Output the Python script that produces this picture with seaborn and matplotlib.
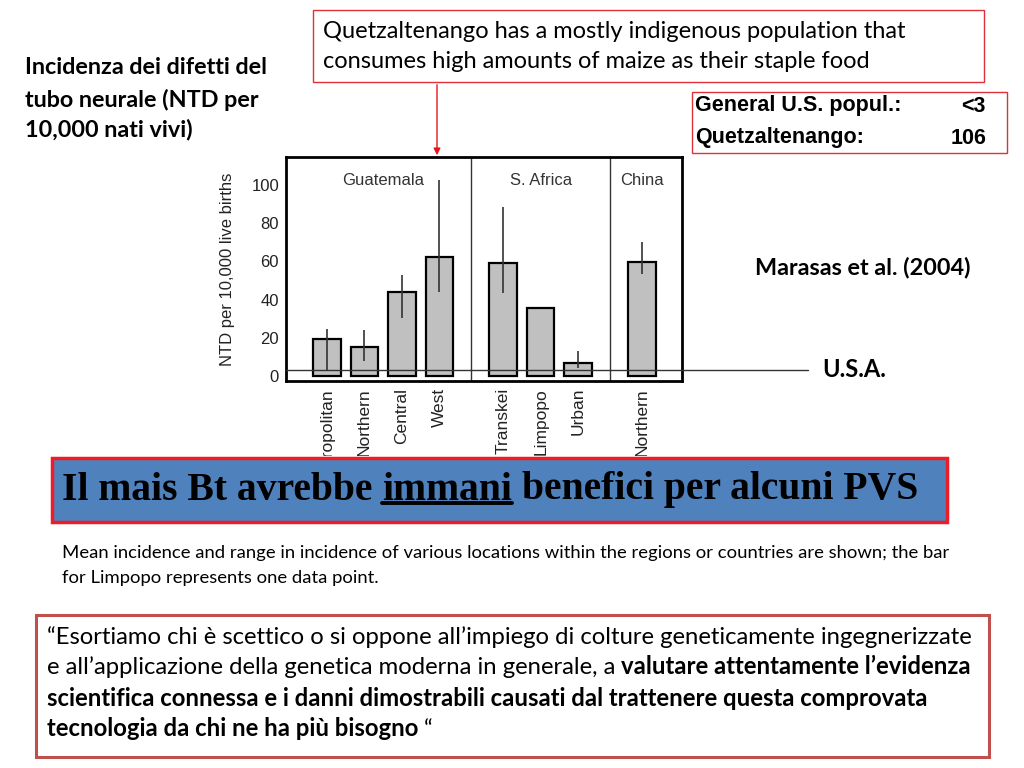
import numpy as np
import pandas as pd
import matplotlib
matplotlib.use("Agg")
import matplotlib.pyplot as plt
import seaborn as sns
from matplotlib.patches import Rectangle
from matplotlib.lines import Line2D
from matplotlib.transforms import Bbox, TransformedBbox

# data (NTD per 10,000 live births)
regions = ["Guatemala", "S. Africa", "China"]
locations = ["Metropolitan", "Northern", "Central", "West", "Transkei", "Limpopo", "Urban", "Northern"]
location_region = ["Guatemala"] * 4 + ["S. Africa"] * 3 + ["China"]
ntd_mean = [19.5, 15, 44, 62.5, 59, 35.5, 7, 59.5]
ntd_low = [3, 8, 30.5, 44, 43.5, np.nan, 4, 53.5]
ntd_high = [24.5, 24, 53, 102.5, 88.5, np.nan, 13, 70]
us_level = 3
y_ticks = [0, 20, 40, 60, 80, 100]

sns.set_theme(style="white")
plt.rcParams["font.family"] = ["Liberation Sans", "DejaVu Sans"]
plt.rcParams["text.color"] = "black"

W, H = 1024, 768
fig = plt.figure(figsize=(W / 100, H / 100), dpi=100)
fig.patch.set_facecolor("white")


def fx(px):
    return px / W


def fy(py):
    return 1 - py / H


# bar chart axes
ax = fig.add_axes([fx(286), fy(381), fx(682) - fx(286), fy(157) - fy(381)])

region_idx = np.array([regions.index(r) for r in location_region])
xpos = np.arange(len(locations)) + 0.7 * region_idx
df = pd.DataFrame({"x": xpos, "ntd": ntd_mean, "low": ntd_low, "high": ntd_high})

sns.barplot(data=df, x="x", y="ntd", native_scale=True, color="#c0c0c0",
            saturation=1, edgecolor="black", linewidth=1.6, width=0.73,
            errorbar=None, ax=ax, zorder=2)

rng = df.dropna()
ax.vlines(rng["x"], rng["low"], rng["high"], color="#333333", lw=1.2, zorder=3)

# region dividers and labels
for i, reg in enumerate(regions):
    xs = xpos[region_idx == i]
    ax.text(xs.mean(), 102.5, reg, ha="center", va="center", fontsize=12, color="#333333")
    if i < len(regions) - 1:
        nxt = xpos[region_idx == i + 1].min()
        ax.axvline((xs.max() + nxt) / 2, color="#333333", lw=1, zorder=1)

# U.S. reference line running out to the label
ax.axhline(us_level, xmin=0, xmax=(808 - 286) / (682 - 286), color="#333333",
           lw=1, clip_on=False, zorder=4)

ax.set_xlim(-1.09, 9.47)
ax.set_ylim(-2.6, 114.7)
ax.set_yticks(y_ticks)
ax.set_xticks(xpos, locations, rotation=90)
ax.tick_params(axis="both", length=0, colors="#222222", pad=5)
ax.tick_params(axis="x", labelsize=12.5)
ax.tick_params(axis="y", labelsize=12)
ax.set_xlabel("")
ax.set_ylabel("NTD per 10,000 live births", fontsize=12, color="#222222", labelpad=12)
for s in ax.spines.values():
    s.set_color("black")
    s.set_linewidth(2)
    s.set_visible(True)

# the original figure image is cropped just above the headline box
crop = TransformedBbox(Bbox([[0, fy(456)], [1, 1]]), fig.transFigure)
for lbl in ax.get_xticklabels():
    lbl.set_clip_on(True)
    lbl.set_clip_box(crop)

# slide text
calibri = ["Lato", "DejaVu Sans"]
for txt, y in zip(["Incidenza dei difetti del", "tubo neurale (NTD per", "10,000 nati vivi)"], [68, 100, 130]):
    fig.text(fx(25), fy(y), txt, family=calibri, weight="bold", fontsize=16.8, va="center")

fig.add_artist(Rectangle((fx(313), fy(82)), fx(984) - fx(313), fy(10) - fy(82),
                         transform=fig.transFigure, fill=False, edgecolor="#e0303a", lw=1))
for txt, y in zip(["Quetzaltenango has a mostly indigenous population that",
                   "consumes high amounts of maize as their staple food"], [32, 62]):
    fig.text(fx(323), fy(y), txt, family=calibri, fontsize=17, va="center")

ax.annotate("", xy=(fx(437), fy(158)), xytext=(fx(437), fy(82)),
            xycoords="figure fraction", textcoords="figure fraction",
            arrowprops=dict(arrowstyle="-|>", color="#e8141b", lw=1, mutation_scale=10))

fig.add_artist(Rectangle((fx(692), fy(153)), fx(1007) - fx(692), fy(92) - fy(153),
                         transform=fig.transFigure, fill=False, edgecolor="#e0303a", lw=1))
for lab, val, y in zip(["General U.S. popul.:", "Quetzaltenango:"], ["<3", "106"], [106, 138]):
    fig.text(fx(695), fy(y), lab, weight="bold", fontsize=15.5, va="center")
    fig.text(fx(986), fy(y), val, weight="bold", fontsize=15.5, va="center", ha="right")

fig.text(fx(755), fy(268), "Marasas et al. (2004)", family=calibri, weight="bold", fontsize=16.8, va="center")
fig.text(fx(822), fy(370), "U.S.A.", family=calibri, weight="bold", fontsize=17, va="center")

# blue headline box with underlined word
fig.add_artist(Rectangle((fx(52), fy(522)), fx(947) - fx(52), fy(458) - fy(522),
                         transform=fig.transFigure, facecolor="#4f81bd", edgecolor="#ee1c25", lw=2.5))
serif = dict(family=["Liberation Serif"], weight="bold", fontsize=28.5, color="black")
h1 = fig.text(fx(62), fy(490), "Il mais Bt avrebbe", va="center", **serif)
h2 = plt.Annotation("immani", xy=(1, 0), xycoords=h1, xytext=(7, 0),
                    textcoords="offset points", va="bottom", **serif)
fig.add_artist(h2)
h3 = plt.Annotation("benefici per alcuni PVS", xy=(1, 0), xycoords=h2, xytext=(7, 0),
                    textcoords="offset points", va="bottom", **serif)
fig.add_artist(h3)

for txt, y in zip(["Mean incidence and range in incidence of various locations within the regions or countries are shown; the bar",
                   "for Limpopo represents one data point."], [553, 578]):
    fig.text(fx(62), fy(y), txt, family=calibri, fontsize=13.3, va="center")

fig.add_artist(Rectangle((fx(36), fy(757)), fx(989) - fx(36), fy(615) - fy(757),
                         transform=fig.transFigure, fill=False, edgecolor="#c0504d", lw=2.2))
qs = 17.2
sp = 4.2
fig.text(fx(47), fy(637), "“Esortiamo chi è scettico o si oppone all’impiego di colture geneticamente ingegnerizzate",
         family=calibri, fontsize=qs, va="center")
t = fig.text(fx(47), fy(667), "e all’applicazione della genetica moderna in generale, a",
             family=calibri, fontsize=qs, va="center")
fig.add_artist(plt.Annotation("valutare attentamente l’evidenza", xy=(1, 0), xycoords=t,
                              xytext=(sp, 0), textcoords="offset points", va="bottom",
                              family=calibri, weight="bold", fontsize=qs))
fig.text(fx(47), fy(698), "scientifica connessa e i danni dimostrabili causati dal trattenere questa comprovata",
         family=calibri, weight="bold", fontsize=qs, va="center")
t = fig.text(fx(47), fy(729), "tecnologia da chi ne ha più bisogno",
             family=calibri, weight="bold", fontsize=qs, va="center")
fig.add_artist(plt.Annotation("“", xy=(1, 0), xycoords=t, xytext=(sp, 0),
                              textcoords="offset points", va="bottom", family=calibri, fontsize=qs))

# underline "immani" once its extent is known
fig.canvas.draw()
bb = h2.get_window_extent()
uy = (bb.y0 + 6) / H
fig.add_artist(Line2D([bb.x0 / W, bb.x1 / W], [uy, uy], transform=fig.transFigure,
                      color="black", lw=2.8))

fig.savefig("out.png", dpi=100)
